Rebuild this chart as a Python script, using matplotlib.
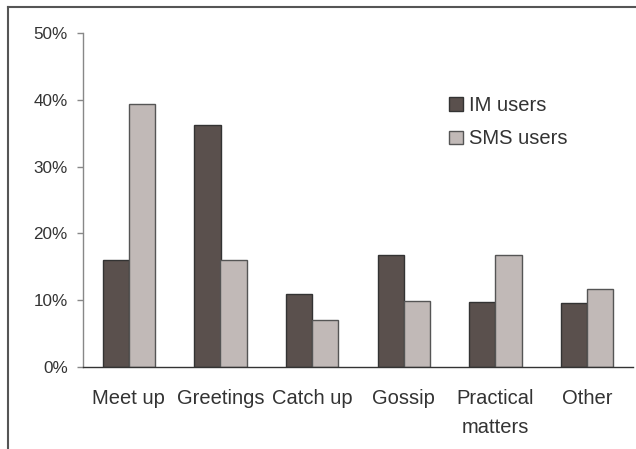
import matplotlib
matplotlib.use("Agg")
import matplotlib.pyplot as plt
import numpy as np
from matplotlib.lines import Line2D
from matplotlib.patches import Patch

categories = ["Meet up", "Greetings", "Catch up", "Gossip", "Practical\nmatters", "Other"]
im_users = [16.0, 36.2, 10.9, 16.8, 9.7, 9.6]
sms_users = [39.4, 16.0, 7.1, 9.9, 16.7, 11.7]
series_names = ["IM users", "SMS users"]
yticks = [0, 10, 20, 30, 40, 50]

plt.rcParams['font.family'] = ['Liberation Sans', 'DejaVu Sans']
text_color = "#333333"
im_color = "#5a504d"
sms_color = "#c1b9b7"

fig = plt.figure(figsize=(6.36, 4.49), dpi=100)
ax = fig.add_axes([83/636, 1-367/449, 550/636, (367-33)/449])

x = np.arange(len(categories))
w = 0.285
ax.bar(x - w/2, im_users, w, color=im_color, edgecolor="#333333", linewidth=1.0, label=series_names[0])
ax.bar(x + w/2, sms_users, w, color=sms_color, edgecolor="#555555", linewidth=1.0, label=series_names[1])

ax.set_xlim(-0.5, len(categories) - 0.5)
ax.set_ylim(0, 50)
ax.set_yticks(yticks)
ax.set_yticklabels([f"{v}%" for v in yticks])
ax.set_xticks(x)
ax.set_xticklabels(categories, linespacing=1.65)

ax.tick_params(axis='y', direction='out', length=4, width=1, color="#888888",
               pad=7, labelsize=12.3, labelcolor=text_color)
ax.tick_params(axis='x', length=0, pad=16, labelsize=14.5, labelcolor=text_color)

for s in ["top", "right"]:
    ax.spines[s].set_visible(False)
ax.spines["left"].set_color("#888888")
ax.spines["left"].set_linewidth(1.0)
ax.spines["bottom"].set_color("#333333")
ax.spines["bottom"].set_linewidth(1.0)

handles = [Patch(facecolor=im_color, edgecolor="#333333", linewidth=1.0),
           Patch(facecolor=sms_color, edgecolor="#555555", linewidth=1.0)]
fig.legend(handles, series_names, loc="upper left",
           bbox_to_anchor=(449/636, 1-96/449), frameon=False, fontsize=14.5,
           handlelength=0.68, handleheight=0.68, handletextpad=0.3,
           labelspacing=0.72, borderpad=0, borderaxespad=0,
           labelcolor=text_color)

# figure frame (top and left)
fig.add_artist(Line2D([8/636, 1.0], [1-7/449, 1-7/449], transform=fig.transFigure,
                      color="#555555", linewidth=1.5))
fig.add_artist(Line2D([8/636, 8/636], [0, 1-7/449], transform=fig.transFigure,
                      color="#555555", linewidth=1.5))

fig.savefig("out.png", dpi=100)
